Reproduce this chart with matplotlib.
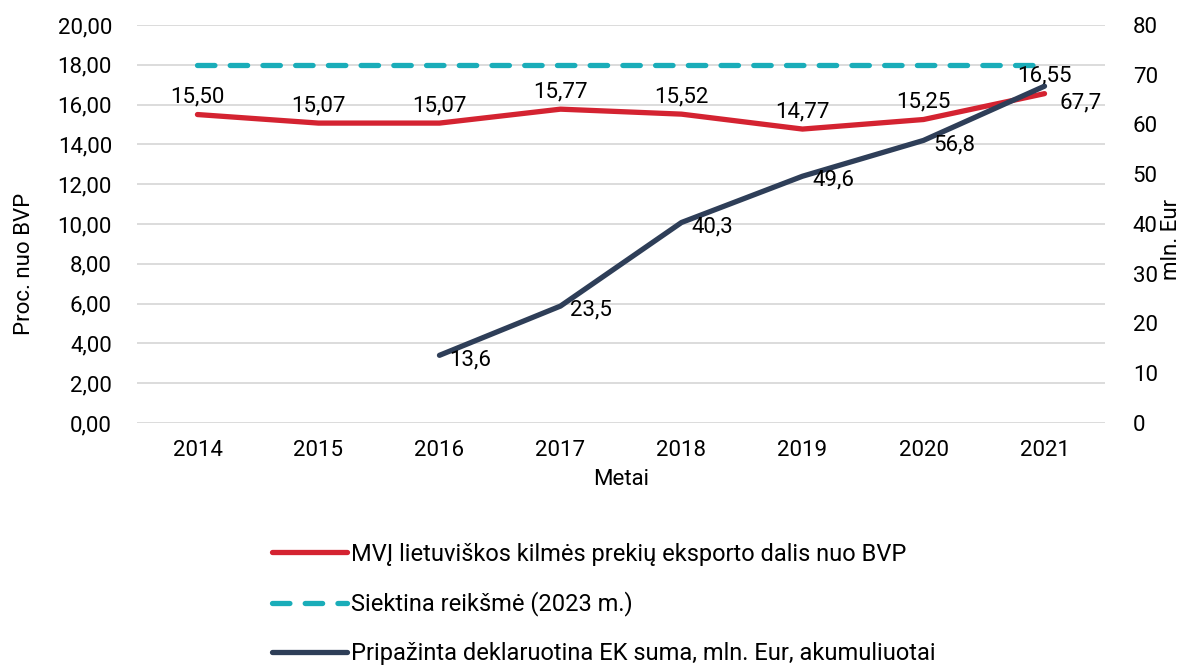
import matplotlib.pyplot as plt
from matplotlib.ticker import FuncFormatter

years = ["2014", "2015", "2016", "2017", "2018", "2019", "2020", "2021"]
export_share = [15.50, 15.07, 15.07, 15.77, 15.52, 14.77, 15.25, 16.55]
target = [18.0] * 8
ek_years = ["2016", "2017", "2018", "2019", "2020", "2021"]
ek_sum = [13.6, 23.5, 40.3, 49.6, 56.8, 67.7]

lbl_export = "MVĮ lietuviškos kilmės prekių eksporto dalis nuo BVP"
lbl_target = "Siektina reikšmė (2023 m.)"
lbl_ek = "Pripažinta deklaruotina EK suma, mln. Eur, akumuliuotai"

plt.rcParams['font.family'] = ['Roboto', 'DejaVu Sans']
fs = 16

fig = plt.figure(figsize=(11.95, 6.7), dpi=100)
ax = fig.add_axes([0.1146, 0.3687, 0.8101, 0.594])
ax2 = ax.twinx()

x = list(range(len(years)))
xe = [years.index(y) for y in ek_years]

red, teal, navy = "#D42331", "#1AADB9", "#2E3E58"

l1, = ax.plot(x, export_share, color=red, lw=3.8, solid_capstyle='round', zorder=3)
l2, = ax.plot(x, target, color=teal, lw=3.8, dashes=(3.3, 2.9), dash_capstyle='round', zorder=3)
l3, = ax2.plot(xe, ek_sum, color=navy, lw=3.8, solid_capstyle='round', zorder=3)

for xi, v in zip(x, export_share):
    ax.annotate(f"{v:.2f}".replace(".", ","), (xi, v), xytext=(0, 5), textcoords="offset points",
                ha="center", va="bottom", fontsize=fs)
for i, (xi, v) in enumerate(zip(xe, ek_sum)):
    dy = -12 if i == len(ek_sum) - 1 else -3
    dx = 11 if i == len(ek_sum) - 1 else 7
    ax2.annotate(f"{v:.1f}".replace(".", ","), (xi, v), xytext=(dx, dy), textcoords="offset points",
                 ha="left", va="center", fontsize=fs)

ax.set_xlim(-0.5, len(years) - 0.5)
ax.set_ylim(0, 20)
ax.set_yticks(range(0, 21, 2))
ax.yaxis.set_major_formatter(FuncFormatter(lambda v, p: f"{v:.2f}".replace(".", ",")))
ax2.set_ylim(0, 80)
ax2.set_yticks(range(0, 81, 10))
ax.set_xticks(x)
ax.set_xticklabels(years)

ax.grid(axis="y", color="#D9D9D9", lw=1.3)
ax.set_axisbelow(True)
for a in (ax, ax2):
    for s in a.spines.values():
        s.set_visible(False)
    a.tick_params(length=0, labelsize=fs)
ax.tick_params(axis="y", pad=18)
ax.tick_params(axis="x", pad=12)
ax2.tick_params(axis="y", pad=20)

ax.set_xlabel("Metai", fontsize=fs, labelpad=6)
ax.set_ylabel("Proc. nuo BVP", fontsize=fs)
ax.yaxis.set_label_coords(-0.105, 0.4)
ax2.set_ylabel("mln. Eur", fontsize=fs)
ax2.yaxis.set_label_coords(1.058, 0.46)

fig.legend([l1, l2, l3], [lbl_export, lbl_target, lbl_ek], loc="upper center",
           bbox_to_anchor=(0.505, 0.222), frameon=False, fontsize=17, ncol=1,
           handlelength=3.2, handletextpad=0.15, labelspacing=1.1)

fig.savefig("out.png", dpi=100)
